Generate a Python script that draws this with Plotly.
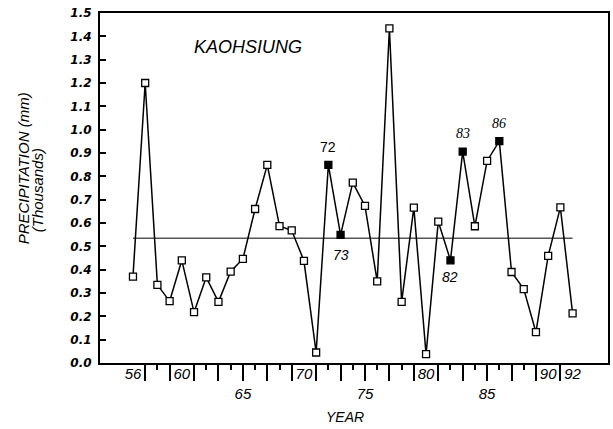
import plotly.graph_objects as go

years = list(range(56, 93))
precip = [0.37, 1.20, 0.335, 0.265, 0.44, 0.218, 0.367, 0.262, 0.392, 0.446,
          0.66, 0.849, 0.587, 0.568, 0.438, 0.045, 0.849, 0.549, 0.773, 0.673,
          0.35, 1.434, 0.262, 0.666, 0.038, 0.606, 0.44, 0.906, 0.586, 0.866,
          0.951, 0.39, 0.317, 0.132, 0.459, 0.667, 0.213]
highlight_years = [72, 73, 82, 83, 86]
mean_value = 0.535
label_years = [56, 60, 65, 70, 75, 80, 85, 90, 92]
label_text = ["56", "60", "<br>65", "70", "<br>75", "80", "<br>85", "90", "92"]
long_tick_years = [57, 59, 61, 63, 65, 67, 69, 71, 73, 75, 77, 79, 81, 83, 85, 87, 89, 91]
short_tick_years = [58, 62, 64, 66, 68, 72, 74, 76, 78, 82, 84, 86, 88]
ann_info = [  # year, yshift, font family, italic
    (72, 18, "Arial", "normal"),
    (73, -20, "Arial", "italic"),
    (82, -17, "Arial", "italic"),
    (83, 18, "Liberation Serif", "italic"),
    (86, 18, "Liberation Serif", "italic"),
]

fills = ["black" if y in highlight_years else "white" for y in years]

fig = go.Figure()
fig.add_trace(go.Scatter(
    x=[years[0], years[-1]], y=[mean_value, mean_value], mode="lines",
    line=dict(color="black", width=1), showlegend=False, hoverinfo="skip"))
fig.add_trace(go.Scatter(
    x=years, y=precip, mode="lines+markers",
    line=dict(color="black", width=1.5),
    marker=dict(symbol="square", size=7, color=fills,
                line=dict(color="black", width=1.3)),
    showlegend=False))
# dummy trace to activate xaxis2
fig.add_trace(go.Scatter(x=[years[0]], y=[precip[0]], xaxis="x2", mode="markers",
                         marker=dict(opacity=0), showlegend=False, hoverinfo="skip"))

tick_font = dict(family="Arial", size=15, color="black", style="italic")

fig.update_layout(
    width=613, height=429,
    margin=dict(l=100, r=3, t=13, b=66),
    paper_bgcolor="white", plot_bgcolor="white",
    xaxis=dict(range=[53.3, 94.9], showgrid=False, zeroline=False,
               showline=True, linecolor="black", linewidth=2, mirror=True,
               tickmode="array", tickvals=long_tick_years, ticks="outside",
               ticklen=16, tickwidth=1.5, tickcolor="black",
               showticklabels=False,
               minor=dict(tickmode="array", tickvals=short_tick_years,
                          ticks="outside", ticklen=5, tickwidth=1.5,
                          tickcolor="black")),
    xaxis2=dict(overlaying="x", matches="x", anchor="y", side="bottom",
                showgrid=False, zeroline=False, showline=False, ticks="",
                tickmode="array", tickvals=label_years, ticktext=label_text,
                tickfont=tick_font, ticklabelstandoff=0),
    yaxis=dict(range=[0, 1.5], showgrid=False, zeroline=False,
               showline=True, linecolor="black", linewidth=2, mirror=True,
               tickmode="linear", tick0=0, dtick=0.1, tickformat=".1f",
               ticks="inside", ticklen=6, tickwidth=1.5, tickcolor="black",
               ticklabelstandoff=4,
               tickfont=dict(family="DejaVu Sans", size=12, color="black",
                             style="italic", weight="bold")),
)

annotations = [
    dict(text="KAOHSIUNG", xref="paper", yref="paper", x=(192 - 100) / 510,
         y=(363 - 47) / 350, xanchor="left", yanchor="middle", showarrow=False,
         font=dict(family="Arial", size=18, color="black", style="italic")),
    dict(text="PRECIPITATION (mm)", xref="paper", yref="paper",
         x=-(100 - 23) / 510, y=(363 - 168) / 350, textangle=-90,
         xanchor="center", yanchor="middle", showarrow=False,
         font=dict(family="Arial", size=15, color="black", style="italic")),
    dict(text="(Thousands)", xref="paper", yref="paper",
         x=-(100 - 37) / 510, y=(363 - 190) / 350, textangle=-90,
         xanchor="center", yanchor="middle", showarrow=False,
         font=dict(family="Arial", size=15, color="black", style="italic")),
    dict(text="YEAR", xref="paper", yref="paper", x=(346 - 100) / 510,
         y=-(417 - 363) / 350, xanchor="center", yanchor="middle",
         showarrow=False,
         font=dict(family="Arial", size=14, color="black", style="italic")),
]
for yr, shift, fam, sty in ann_info:
    annotations.append(dict(
        text=str(yr), x=yr, y=precip[years.index(yr)], xref="x", yref="y",
        yshift=shift, showarrow=False, xanchor="center", yanchor="middle",
        font=dict(family=fam, size=14, color="black", style=sty)))
fig.update_layout(annotations=annotations)

fig.write_html("out.html")
